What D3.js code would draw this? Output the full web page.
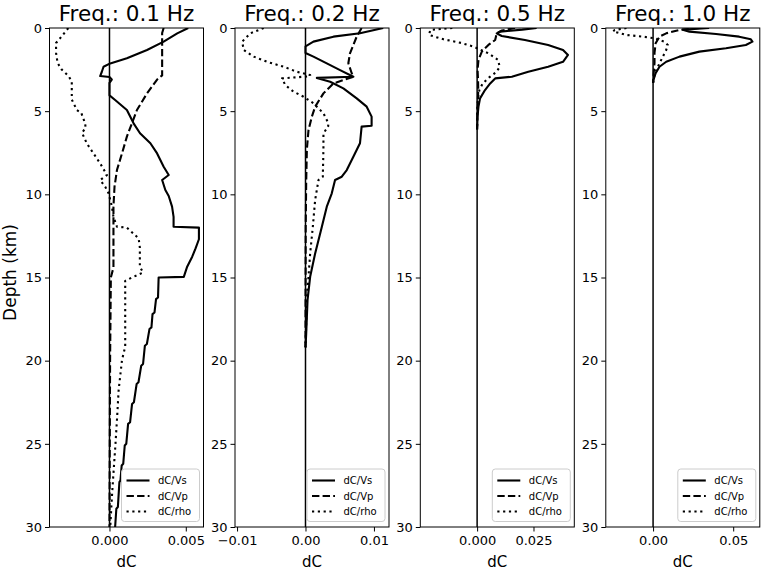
<!DOCTYPE html>
<html>
<head>
<meta charset="utf-8">
<script src="https://cdn.jsdelivr.net/npm/d3@7"></script>
<style>
  html, body { margin: 0; padding: 0; background: #fff; }
  svg { display: block; font-family: "DejaVu Sans", sans-serif; }
</style>
</head>
<body>
<svg id="chart" width="765" height="571"></svg>
<script>
// ---------- data (depth in km, dC in units of 1e-3) ----------
const unit = 1e-3;
const freqs = ["0.1", "0.2", "0.5", "1.0"];
const seriesNames = ["dC/Vs", "dC/Vp", "dC/rho"];

const vs01 = [[0,5.16],[0.32,4.44],[0.82,3.55],[1.32,2.46],[1.82,1.14],[2.13,0.05],[2.33,-0.39],[2.63,-0.5],[2.89,-0.61],[2.95,0.0],[3.1,0.15],[3.3,0],[4.05,0],[4.33,0.37],[4.93,1.14],[5.73,1.58],[6.33,2.0],[6.93,2.68],[7.54,3.12],[8.34,3.55],[8.84,3.88],[9.14,3.45],[9.74,3.66],[10.1,3.88],[10.74,4.1],[11.35,4.2],[11.95,4.2],[12.0,5.86],[12.7,5.86],[13.25,5.64],[13.75,5.42],[14.35,5.09],[14.96,4.87],[15.0,3.22],[16.2,3.18],[16.3,3.05],[17.1,2.95],[17.2,2.82],[18.0,2.75],[18.1,2.62],[19.0,2.45],[19.1,2.32],[20.2,2.2],[20.3,2.08],[21.3,1.9],[21.4,1.78],[22.5,1.6],[22.6,1.48],[23.7,1.35],[23.8,1.22],[25.0,1.1],[25.1,1.0],[26.2,0.9],[26.3,0.8],[27.2,0.72],[27.3,0.65],[28.8,0.55],[28.9,0.45],[30,0.37]];
const vp01 = [[0,3.55],[0.3,3.45],[2.85,3.45],[3.1,3.12],[3.93,2.46],[4.93,1.8],[5.73,1.47],[6.53,1.14],[7.54,0.82],[8.54,0.49],[9.54,0.33],[10.74,0.26],[12,0.26],[14.4,0.26],[15.0,0.09],[20,0.04],[30,0.0]];
const rho01 = [[0,-2.7],[0.5,-3.13],[0.9,-3.5],[1.5,-3.5],[2.1,-3.4],[2.5,-3.13],[2.87,-2.7],[3.2,-2.47],[4.3,-2.47],[4.93,-2.14],[5.1,-1.85],[5.73,-1.6],[6.0,-1.56],[6.3,-1.8],[6.93,-1.49],[7.54,-1.05],[8.14,-0.61],[8.84,-0.17],[9.14,-0.61],[9.54,-0.28],[9.94,-0.06],[10.74,0.16],[11.35,0.26],[11.95,0.49],[12.0,1.14],[12.65,1.91],[13.2,1.99],[14.35,1.99],[14.7,2.2],[15.0,1.47],[15.2,1.03],[19.16,1.03],[19.96,0.82],[21.77,0.6],[23.57,0.49],[25.18,0.38],[26.78,0.26],[28.18,0.16],[30,0.05]];

const vs02 = [[0,11.35],[0.32,7.96],[0.52,4.08],[0.82,1.16],[1.1,0],[1.5,0],[1.72,1.16],[2.13,3.11],[2.53,5.05],[2.93,6.99],[3.0,1.66],[3.23,3.6],[3.63,5.53],[4.23,7.48],[4.73,8.94],[5.33,9.66],[5.88,9.66],[5.93,8.2],[6.93,7.96],[7.74,6.99],[8.54,6.03],[8.94,5.3],[9.14,4.32],[9.94,3.84],[10.74,3.11],[11.95,2.39],[13.55,1.41],[14.96,0.68],[16.35,0.3],[18.4,0.1],[19.2,0]];
const vp02 = [[0,8.2],[0.52,7.48],[1.52,6.5],[2.12,6.26],[2.72,6.75],[2.93,6.99],[3.33,4.08],[3.93,2.62],[4.73,1.41],[5.33,0.93],[6.13,0.44],[7.3,0.2],[9.3,0.1],[12,0.03],[19.2,0]];
const rho02 = [[0,-6.11],[0.32,-8.05],[0.82,-9.26],[1.32,-9.02],[1.72,-7.57],[2.03,-5.62],[2.33,-3.2],[2.63,-1.25],[2.83,0.68],[2.9,0.68],[3.03,-3.43],[3.43,-2.95],[3.83,-1.75],[4.13,-0.29],[4.53,1.16],[5.13,2.62],[5.73,3.35],[5.93,3.3],[6.33,2.62],[7.3,2.62],[8.94,2.53],[9.14,1.9],[10.34,1.41],[11.95,1.07],[13.55,0.68],[14.96,0.44],[16.35,0.2],[19.2,0]];

const vs05 = [[0,26.4],[0.1,20],[0.22,10.2],[0.32,8.7],[0.48,10.9],[0.72,21.2],[1.02,31.5],[1.32,38.1],[1.62,40.3],[2.03,38.1],[2.33,31.5],[2.63,22.7],[2.93,15.4],[3.03,8.0],[3.33,5.8],[3.73,3.5],[4.23,1.3],[4.73,0.6],[5.3,0.2],[6.1,0]];
const vp05 = [[0,16.8],[0.15,11],[0.32,8.7],[0.72,8.0],[1.02,5.0],[1.42,2.1],[1.92,0.6],[2.5,0.2],[3.1,0.4],[3.7,0.5],[4.5,0.3],[5.5,0.05],[6.1,0]];
const rho05 = [[0,-11],[0.12,-20.8],[0.42,-21.3],[0.68,-14.9],[0.9,-7],[1.1,-2],[1.22,0],[1.52,5],[1.92,9.3],[2.33,10],[2.63,8.7],[2.95,5.5],[3.33,2.5],[3.73,1.0],[4.3,0.3],[5,0.05],[6.1,0]];

const vs10 = [[0,35],[0.1,18.5],[0.22,22.7],[0.36,39.3],[0.52,53.7],[0.68,61],[0.82,62],[1.02,57.9],[1.22,45.5],[1.42,28.9],[1.72,16.5],[2.03,8.2],[2.33,4.0],[2.72,1.6],[3.1,0.3],[3.3,0]];
const vp10 = [[0,28.9],[0.12,16.5],[0.32,8.2],[0.52,4.0],[0.92,1.6],[1.5,0.9],[2.1,0.9],[2.7,0.4],[3.3,0]];
const rho10 = [[0,-16.6],[0.12,-23.9],[0.2,-25],[0.42,-16.6],[0.52,-6.3],[0.62,0.9],[0.82,7.1],[1.02,9.2],[1.32,8.2],[1.72,6.1],[2.13,4.0],[2.53,2.0],[2.9,0.7],[3.3,0]];

const xDomains = [[-0.00393, 0.00616], [-0.0103, 0.0122], [-0.0252, 0.0431], [-0.0295, 0.0666]];
const xTicks = [[0, 0.005], [-0.01, 0, 0.01], [0, 0.025], [0, 0.05]];
const xTickLabels = [["0.000", "0.005"], ["\u22120.01", "0.00", "0.01"], ["0.000", "0.025"], ["0.00", "0.05"]];
const yTicks = [0, 5, 10, 15, 20, 25, 30];
const yTickLabels = ["0", "5", "10", "15", "20", "25", "30"];

const panelSeries = [[vs01, vp01, rho01], [vs02, vp02, rho02], [vs05, vp05, rho05], [vs10, vp10, rho10]];

// ---------- layout ----------
const svg = d3.select("#chart");
const plotTop = 28, plotBottom = 527, pw = 154;
const lefts = [49.5, 235, 420.3, 605.8];
const dashes = [null, "7.4,3.2", "2.2,3.6"];
const lw = 2.1;

const y = d3.scaleLinear().domain([0, 30]).range([plotTop, plotBottom]);

freqs.forEach((f, i) => {
  const L = lefts[i], R = L + pw;
  const x = d3.scaleLinear().domain(xDomains[i]).range([L, R]);
  const g = svg.append("g");

  const clipId = "clip" + i;
  svg.append("clipPath").attr("id", clipId)
    .append("rect").attr("x", L).attr("y", plotTop).attr("width", pw).attr("height", plotBottom - plotTop);

  // zero line
  g.append("line")
    .attr("x1", x(0)).attr("x2", x(0)).attr("y1", plotTop).attr("y2", plotBottom)
    .attr("stroke", "#000").attr("stroke-width", 1.5);

  // curves
  const line = d3.line().x(d => x(d[1] * unit)).y(d => y(d[0]));
  panelSeries[i].forEach((s, k) => {
    g.append("path")
      .datum(s)
      .attr("clip-path", `url(#${clipId})`)
      .attr("d", line)
      .attr("fill", "none")
      .attr("stroke", "#000")
      .attr("stroke-width", lw)
      .attr("stroke-linejoin", "round")
      .attr("stroke-dasharray", dashes[k]);
  });

  // frame
  g.append("rect").attr("x", L).attr("y", plotTop).attr("width", pw).attr("height", plotBottom - plotTop)
    .attr("fill", "none").attr("stroke", "#000").attr("stroke-width", 1);

  // y axis
  const yAxis = d3.axisLeft(y).tickValues(yTicks).tickSize(4.5).tickPadding(3)
    .tickFormat((d, j) => yTickLabels[j]);
  const ya = g.append("g").attr("transform", `translate(${L},0)`).call(yAxis);
  ya.select(".domain").remove();
  ya.selectAll("text").attr("font-size", 13).attr("font-family", "DejaVu Sans").attr("fill", "#000");
  ya.selectAll("line").attr("stroke", "#000");

  // x axis
  const xAxis = d3.axisBottom(x).tickValues(xTicks[i]).tickSize(4.5).tickPadding(4.5)
    .tickFormat((d, j) => xTickLabels[i][j]);
  const xa = g.append("g").attr("transform", `translate(0,${plotBottom})`).call(xAxis);
  xa.select(".domain").remove();
  xa.selectAll("text").attr("font-size", 13).attr("font-family", "DejaVu Sans").attr("fill", "#000");
  xa.selectAll("line").attr("stroke", "#000");

  // x label
  g.append("text").attr("x", (L + R) / 2).attr("y", 566.5).attr("text-anchor", "middle")
    .attr("font-size", 15).attr("fill", "#000").text("dC");

  // title
  g.append("text").attr("x", (L + R) / 2).attr("y", 21).attr("text-anchor", "middle")
    .attr("font-size", 21.5).attr("fill", "#000").text(`Freq.: ${f} Hz`);

  // legend
  const bx = R - 82, by = 469, bw = 78, bh = 52.5;
  const lg = g.append("g");
  lg.append("rect").attr("x", bx).attr("y", by).attr("width", bw).attr("height", bh)
    .attr("rx", 3).attr("fill", "#fff").attr("fill-opacity", 0.8)
    .attr("stroke", "#cccccc").attr("stroke-width", 1);
  seriesNames.forEach((n, k) => {
    const cy = by + 11.5 + k * 15.5;
    lg.append("line").attr("x1", bx + 5).attr("x2", bx + 28).attr("y1", cy).attr("y2", cy)
      .attr("stroke", "#000").attr("stroke-width", lw).attr("stroke-dasharray", dashes[k]);
    lg.append("text").attr("x", bx + 36.5).attr("y", cy + 3.6).attr("font-size", 10)
      .attr("fill", "#000").text(n);
  });
});

// y label
svg.append("text")
  .attr("transform", `translate(15.5,272.5) rotate(-90)`)
  .attr("text-anchor", "middle").attr("font-size", 17).attr("fill", "#000")
  .text("Depth (km)");
</script>
</body>
</html>
